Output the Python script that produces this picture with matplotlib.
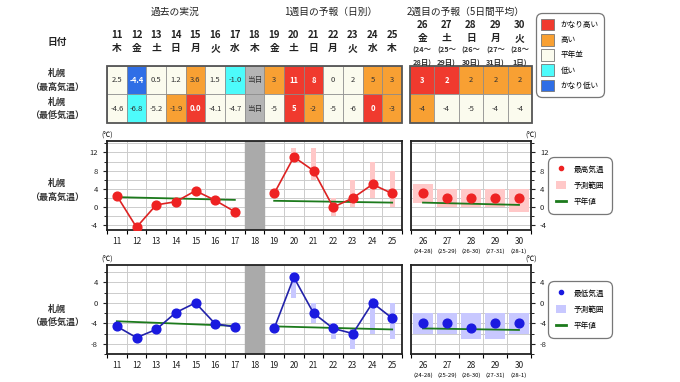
import matplotlib
matplotlib.use('Agg')
import matplotlib.pyplot as plt
from matplotlib.patches import Rectangle, Patch
from matplotlib.lines import Line2D
from matplotlib.transforms import blended_transform_factory

plt.rcParams['font.family'] = ['Noto Sans CJK JP', 'DejaVu Sans']
plt.rcParams['axes.unicode_minus'] = False

# ---- データ ----
days1 = [11, 12, 13, 14, 15, 16, 17, 18, 19, 20, 21, 22, 23, 24, 25]
wdays1 = ['木', '金', '土', '日', '月', '火', '水', '木', '金', '土', '日', '月', '火', '水', '木']
days2 = [26, 27, 28, 29, 30]
wdays2 = ['金', '土', '日', '月', '火']
rng2_top = ['(24～', '(25～', '(26～', '(27～', '(28～']
rng2_bot = ['28日)', '29日)', '30日)', '31日)', '1日)']
rng2_short = ['(24-28)', '(25-29)', '(26-30)', '(27-31)', '(28-1)']

# 表（15日分：実況7日 + 当日 + 1週目7日）
max_txt1 = ['2.5', '-4.4', '0.5', '1.2', '3.6', '1.5', '-1.0', '当日', '3', '11', '8', '0', '2', '5', '3']
max_cls1 = ['n', 'vl', 'n', 'n', 'h', 'n', 'l', 't', 'h', 'vh', 'vh', 'n', 'n', 'h', 'h']
min_txt1 = ['-4.6', '-6.8', '-5.2', '-1.9', '0.0', '-4.1', '-4.7', '当日', '-5', '5', '-2', '-5', '-6', '0', '-3']
min_cls1 = ['n', 'l', 'n', 'h', 'vh', 'n', 'n', 't', 'n', 'vh', 'h', 'n', 'n', 'vh', 'h']
max_txt2 = ['3', '2', '2', '2', '2']
max_cls2 = ['vh', 'vh', 'h', 'h', 'h']
min_txt2 = ['-4', '-4', '-5', '-4', '-4']
min_cls2 = ['h', 'n', 'n', 'n', 'n']

# 過去の実況
past_days = [11, 12, 13, 14, 15, 16, 17]
max_past = [2.5, -4.4, 0.5, 1.2, 3.6, 1.5, -1.0]
min_past = [-4.6, -6.8, -5.2, -1.9, 0.0, -4.1, -4.7]
norm_past_days = [11, 17]
norm_max_past = [2.2, 1.6]
norm_min_past = [-3.6, -4.5]

# 1週目の予報
fc_days = [19, 20, 21, 22, 23, 24, 25]
max_fc = [3, 11, 8, 0, 2, 5, 3]
max_fc_lo = [None, 10, 6, -2, 0, 2, 0]
max_fc_hi = [None, 13, 13, 2, 6, 10, 8]
min_fc = [-5, 5, -2, -5, -6, 0, -3]
min_fc_lo = [None, 1, -4, -7, -9, -6, -7]
min_fc_hi = [None, 6, 0, -4, -5, 1, 0]
norm_fc_days = [19, 25]
norm_max_fc = [1.4, 1.0]
norm_min_fc = [-4.6, -5.2]

# 2週目の予報
max_w2 = [3, 2, 2, 2, 2]
max_w2_lo = [1, 0, 0, 0, -1]
max_w2_hi = [5, 4, 4, 4, 4]
min_w2 = [-4, -4, -5, -4, -4]
min_w2_lo = [-6, -6, -7, -7, -6]
min_w2_hi = [-2, -2, -2, -2, -2]
norm_w2_days = [26, 30]
norm_max_w2 = [1.0, 0.5]
norm_min_w2 = [-5.0, -5.3]

cls_color = {'vh': '#f03a2e', 'h': '#f8a033', 'n': '#fbfbee', 'l': '#4dfbfb',
             'vl': '#2f6ee6', 't': '#b4b4b4'}
legend_cls = [('vh', 'かなり高い'), ('h', '高い'), ('n', '平年並'), ('l', '低い'), ('vl', 'かなり低い')]

W, H = 680, 382
fig = plt.figure(figsize=(W / 100, H / 100), dpi=100)
fig.patch.set_facecolor('white')


def px_axes(x0, y0, x1, y1):
    return fig.add_axes([x0 / W, 1 - y1 / H, (x1 - x0) / W, (y1 - y0) / H])


def ftext(x, y, s, **kw):
    kw.setdefault('ha', 'center')
    kw.setdefault('va', 'center')
    kw.setdefault('color', '#222222')
    fig.text(x / W, 1 - y / H, s, **kw)


TXT = '#333333'

# ---- 見出し ----
ftext(175, 12, '過去の実況', fontsize=7)
ftext(331, 12, '1週目の予報（日別）', fontsize=7)
ftext(466, 12, '2週目の予報（5日間平均）', fontsize=7)
ftext(57, 42, '日付', fontsize=7, fontweight='bold')
ftext(57, 73, '札幌', fontsize=6.5, fontweight='bold', color=TXT)
ftext(57, 87, '（最高気温）', fontsize=6.5, fontweight='bold', color=TXT)
ftext(57, 102, '札幌', fontsize=6.5, fontweight='bold', color=TXT)
ftext(57, 116, '（最低気温）', fontsize=6.5, fontweight='bold', color=TXT)
ftext(57, 183, '札幌', fontsize=6.5, fontweight='bold', color=TXT)
ftext(57, 197, '（最高気温）', fontsize=6.5, fontweight='bold', color=TXT)
ftext(57, 309, '札幌', fontsize=6.5, fontweight='bold', color=TXT)
ftext(57, 323, '（最低気温）', fontsize=6.5, fontweight='bold', color=TXT)


def draw_table(ax, days, rows, x0, x1):
    ax.set_xlim(x0, x1)
    ax.set_ylim(2, 0)
    ax.axis('off')
    for r, (txts, clss) in enumerate(rows):
        for d, t, c in zip(days, txts, clss):
            ax.add_patch(Rectangle((d - 0.5, r), 1, 1, facecolor=cls_color[c],
                                   edgecolor='#888888', lw=0.5))
            strong = c in ('vh', 'vl')
            ax.text(d, r + 0.5, t, ha='center', va='center', fontsize=5.5,
                    color='white' if strong else TXT,
                    fontweight='bold' if strong else 'normal')
    ax.add_patch(Rectangle((x0, 0), x1 - x0, 2, facecolor='none',
                           edgecolor='#555555', lw=1.3, clip_on=False))


ax_t1 = px_axes(107, 66, 402, 123)
draw_table(ax_t1, days1, [(max_txt1, max_cls1), (min_txt1, min_cls1)], 10.5, 25.5)
ax_t2 = px_axes(410, 66, 532, 123)
draw_table(ax_t2, days2, [(max_txt2, max_cls2), (min_txt2, min_cls2)], 25.5, 30.5)

tr1 = blended_transform_factory(ax_t1.transData, fig.transFigure)
for d, w in zip(days1, wdays1):
    ax_t1.text(d, 1 - 35 / H, str(d), transform=tr1, ha='center', va='center',
               fontsize=7, fontweight='bold', color='#222222')
    ax_t1.text(d, 1 - 48 / H, w, transform=tr1, ha='center', va='center',
               fontsize=7, fontweight='bold', color='#222222')
tr2 = blended_transform_factory(ax_t2.transData, fig.transFigure)
for d, w, a, b in zip(days2, wdays2, rng2_top, rng2_bot):
    ax_t2.text(d, 1 - 25 / H, str(d), transform=tr2, ha='center', va='center',
               fontsize=7, fontweight='bold', color='#222222')
    ax_t2.text(d, 1 - 38 / H, w, transform=tr2, ha='center', va='center',
               fontsize=7, fontweight='bold', color='#222222')
    ax_t2.text(d, 1 - 50 / H, a, transform=tr2, ha='center', va='center',
               fontsize=5.3, fontweight='bold', color='#333333')
    ax_t2.text(d, 1 - 62 / H, b, transform=tr2, ha='center', va='center',
               fontsize=5.3, fontweight='bold', color='#333333')

# 色の凡例
leg = fig.legend([Patch(facecolor=cls_color[c], edgecolor='#777777', lw=0.6) for c, _ in legend_cls],
                 [l for _, l in legend_cls], loc='center',
                 bbox_to_anchor=(570 / W, 1 - 55 / H), fontsize=5.5,
                 handlelength=1.7, handleheight=2.0, labelspacing=0.45,
                 handletextpad=0.8, borderpad=0.5, frameon=True, fancybox=True,
                 edgecolor='#555555')
leg.get_frame().set_linewidth(0.9)
leg.get_frame().set_boxstyle('round,pad=0.2,rounding_size=0.8')


def style_axes(ax, ylim, yticks, right=False):
    ax.set_ylim(*ylim)
    ax.set_yticks(yticks)
    ax.set_yticks([v for v in range(-10, 16, 2) if ylim[0] <= v <= ylim[1]], minor=True)
    ax.grid(True, which='both', axis='y', color='#cccccc', lw=0.7)
    ax.grid(True, which='minor', axis='x', color='#cccccc', lw=0.7)
    ax.set_axisbelow(True)
    for s in ax.spines.values():
        s.set_linewidth(1.3)
        s.set_color('#222222')
    ax.tick_params(axis='y', which='major', labelsize=5.5, length=3, width=0.8, colors='#222222')
    ax.tick_params(axis='y', which='minor', length=2, width=0.6)
    ax.tick_params(axis='x', which='major', length=0, labelsize=6, pad=5, colors='#222222')
    ax.tick_params(axis='x', which='minor', length=3, width=0.8)
    if right:
        ax.yaxis.tick_right()
        ax.yaxis.set_ticks_position('right')


def draw_chart(y0, y1, ylim, yticks, obs, fc, fc_lo, fc_hi, w2, w2_lo, w2_hi,
               n_past, n_fc, n_w2, col, line_col, rng_col, lab):
    ax = px_axes(107, y0, 402, y1)
    ax.set_xlim(10.5, 25.5)
    ax.set_xticks(days1)
    ax.set_xticklabels([str(d) for d in days1])
    ax.set_xticks([d + 0.5 for d in range(10, 26)], minor=True)
    style_axes(ax, ylim, yticks)
    ax.axvspan(17.5, 18.5, color='#aaaaaa', zorder=2)
    for d, lo, hi in zip(fc_days, fc_lo, fc_hi):
        if lo is not None:
            ax.bar(d, hi - lo, bottom=lo, width=0.27, color=rng_col, zorder=2)
    ax.plot(norm_past_days, n_past, color='#1c7a1c', lw=1.3, zorder=3)
    ax.plot(norm_fc_days, n_fc, color='#1c7a1c', lw=1.3, zorder=3)
    ax.plot(past_days, obs, color=line_col, lw=1.2, marker='o', ms=6.3,
            mfc=col, mec=col, zorder=4)
    ax.plot(fc_days, fc, color=line_col, lw=1.2, marker='o', ms=6.3,
            mfc=col, mec=col, zorder=4)
    ax.text(0.0, 1.02, '(℃)', transform=ax.transAxes, fontsize=5, ha='center', va='bottom')

    bx = px_axes(411, y0, 531, y1)
    bx.set_xlim(25.5, 30.5)
    bx.set_xticks(days2)
    bx.set_xticklabels([str(d) for d in days2])
    bx.set_xticks([d + 0.5 for d in range(25, 31)], minor=True)
    style_axes(bx, ylim, yticks, right=True)
    for d, lo, hi in zip(days2, w2_lo, w2_hi):
        bx.bar(d, hi - lo, bottom=lo, width=0.86, color=rng_col, zorder=2)
    bx.plot(norm_w2_days, n_w2, color='#1c7a1c', lw=1.3, zorder=3)
    bx.plot(days2, w2, ls='none', marker='o', ms=6.3, mfc=col, mec=col, zorder=4)
    trb = blended_transform_factory(bx.transData, bx.transAxes)
    for d, s in zip(days2, rng2_short):
        bx.text(d, -0.235, s, transform=trb, fontsize=4.3, ha='center', va='center')
    bx.text(1.0, 1.02, '(℃)', transform=bx.transAxes, fontsize=5, ha='center', va='bottom')

    handles = [Line2D([], [], ls='none', marker='o', ms=3, mfc=col, mec=col),
               Patch(facecolor=rng_col, edgecolor='none'),
               Line2D([], [], color='#1c7a1c', lw=2)]
    lg = fig.legend(handles, [lab, '予測範囲', '平年値'], loc='center',
                    bbox_to_anchor=(580 / W, 1 - (y0 + y1) / 2 / H), fontsize=5.5,
                    handlelength=1.3, handleheight=1.3, labelspacing=1.0,
                    handletextpad=1.0, borderpad=0.8, frameon=True, fancybox=True,
                    edgecolor='#555555')
    lg.get_frame().set_linewidth(0.9)
    lg.get_frame().set_boxstyle('round,pad=0.2,rounding_size=0.8')


draw_chart(141, 230, (-5, 14.5), [-4, 0, 4, 8, 12], max_past, max_fc, max_fc_lo, max_fc_hi,
           max_w2, max_w2_lo, max_w2_hi, norm_max_past, norm_max_fc, norm_max_w2,
           '#ee2222', '#dd2222', '#ffc8c8', '最高気温')
draw_chart(265, 354, (-10, 7.4), [-8, -4, 0, 4], min_past, min_fc, min_fc_lo, min_fc_hi,
           min_w2, min_w2_lo, min_w2_hi, norm_min_past, norm_min_fc, norm_min_w2,
           '#1a1ae0', '#2222aa', '#c8c8ff', '最低気温')

fig.savefig('out.png', dpi=100)
